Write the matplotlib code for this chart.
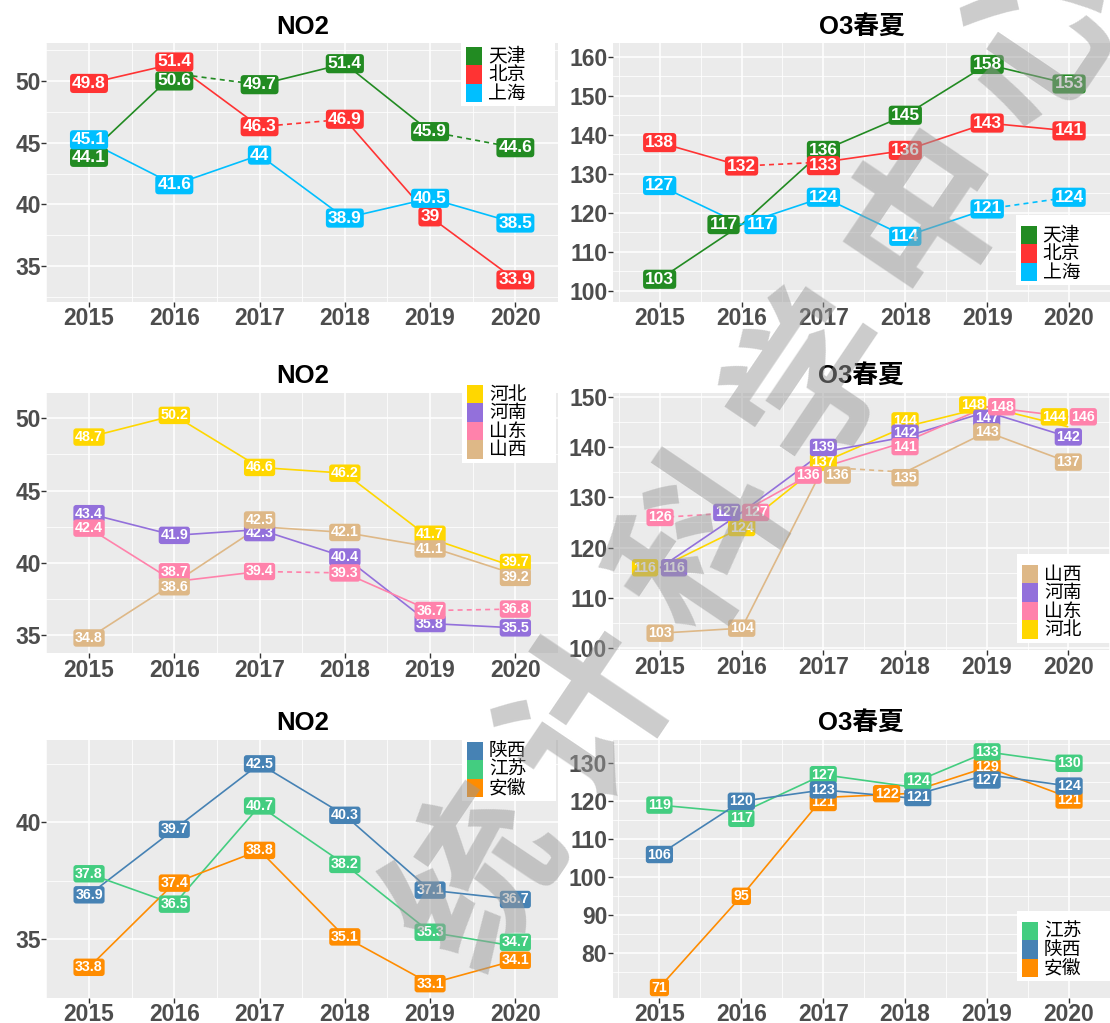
import matplotlib
matplotlib.use('Agg')
import matplotlib.pyplot as plt
from matplotlib.patches import Rectangle

plt.rcParams['font.family'] = ['Liberation Sans', 'Noto Sans CJK SC', 'DejaVu Sans']

W, H = 1110, 1023

years = [2015, 2016, 2017, 2018, 2019, 2020]

# 京津沪
no2_jjh = {'天津': [44.1, 50.6, 49.7, 51.4, 45.9, 44.6],
           '北京': [49.8, 51.4, 46.3, 46.9, 39.0, 33.9],
           '上海': [45.1, 41.6, 44.0, 38.9, 40.5, 38.5]}
o3_jjh = {'天津': [103, 117, 136, 145, 158, 153],
          '北京': [138, 132, 133, 136, 143, 141],
          '上海': [127, 117, 124, 114, 121, 124]}

# 华北四省
no2_hb = {'河北': [48.7, 50.2, 46.6, 46.2, 41.7, 39.7],
          '河南': [43.4, 41.9, 42.3, 40.4, 35.8, 35.5],
          '山东': [42.4, 38.7, 39.4, 39.3, 36.7, 36.8],
          '山西': [34.8, 38.6, 42.5, 42.1, 41.1, 39.2]}
o3_hb = {'河北': [116, 124, 137, 144, 148, 144],
         '河南': [116, 127, 139, 142, 147, 142],
         '山东': [126, 127, 136, 141, 148, 146],
         '山西': [103, 104, 136, 135, 143, 137]}

# 陕苏皖
no2_ssw = {'陕西': [36.9, 39.7, 42.5, 40.3, 37.1, 36.7],
           '江苏': [37.8, 36.5, 40.7, 38.2, 35.3, 34.7],
           '安徽': [33.8, 37.4, 38.8, 35.1, 33.1, 34.1]}
o3_ssw = {'江苏': [119, 117, 127, 124, 133, 130],
          '陕西': [106, 120, 123, 121, 127, 124],
          '安徽': [71, 95, 121, 122, 129, 121]}

colors = {'天津': '#228B22', '北京': '#FF3333', '上海': '#00BFFF',
          '河北': '#FFD700', '河南': '#9370DB', '山东': '#FF82AB', '山西': '#DEB887',
          '陕西': '#4682B4', '江苏': '#43CD80', '安徽': '#FF8C00'}

# segments (index of start year) drawn dashed
dashed = [{'天津': [1, 4], '北京': [2]},
          {'北京': [1], '上海': [4]},
          {'山东': [2, 4]},
          {'山东': [0], '山西': [2]},
          {}, {}]

# label shifts in pixels (dx right, dy down) so stacked labels stay readable
nudges = [
    {('上海', 2015): (0, -1.7), ('天津', 2015): (0, 3.5),
     ('北京', 2016): (0, -1.7), ('天津', 2016): (0, 7.4)},
    {('天津', 2016): (-18, 0), ('上海', 2016): (19, 0), ('北京', 2017): (0, 3.5)},
    {('山东', 2016): (0, -9.8), ('山西', 2016): (0, 3.7),
     ('山西', 2017): (0, -6.7), ('河南', 2017): (0, 3),
     ('河北', 2019): (0, -4), ('山西', 2019): (0, 2),
     ('河北', 2020): (0, -4.7), ('山西', 2020): (0, 3)},
    {('河北', 2015): (-15, 0), ('河南', 2015): (14, 0),
     ('河南', 2016): (-15, 0), ('山东', 2016): (14, 0),
     ('河南', 2017): (0, -4.6), ('山东', 2017): (-15, 8), ('山西', 2017): (14, 8),
     ('河北', 2018): (0, -6), ('河南', 2018): (0, -3.7),
     ('山东', 2018): (0, 4.6), ('山西', 2018): (0, 5.5),
     ('河北', 2019): (-14, -1.8), ('山东', 2019): (15, 0), ('河南', 2019): (0, 6.5),
     ('河北', 2020): (-14, -10), ('山东', 2020): (15, 0)},
    {('江苏', 2020): (0, -4)},
    {('江苏', 2016): (0, 5.6), ('安徽', 2017): (0, 5),
     ('江苏', 2018): (12.6, -5), ('安徽', 2018): (-18.6, 0), ('陕西', 2018): (12.6, 0),
     ('陕西', 2019): (0, 5.3), ('安徽', 2020): (0, 2.5)},
]

panels = [
    dict(data=no2_jjh, title='NO2', box=(46.4, 43.3, 558, 301.7),
         xlim=(2014.531, 2020.365), ylim=(32.13, 53.05),
         yt=[35, 40, 45, 50], ym=[32.5, 37.5, 42.5, 47.5, 52.5], fs=12.5,
         order=['天津', '北京', '上海'], legend=['天津', '北京', '上海'], key=(466, 47)),
    dict(data=o3_jjh, title='O3春夏', box=(613, 43.3, 1110, 301.7),
         xlim=(2014.43, 2020.36), ylim=(97.26, 163.42),
         yt=list(range(100, 161, 10)), ym=list(range(105, 160, 10)), fs=12.5,
         order=['天津', '北京', '上海'], legend=['天津', '北京', '上海'], key=(1020.5, 226)),
    dict(data=no2_hb, title='NO2', box=(46.4, 392.7, 558, 653.3),
         xlim=(2014.531, 2020.365), ylim=(33.74, 51.77),
         yt=[35, 40, 45, 50], ym=[37.5, 42.5, 47.5], fs=10.3,
         order=['河北', '河南', '山东', '山西'], legend=['河北', '河南', '山东', '山西'], key=(467, 385)),
    dict(data=o3_hb, title='O3春夏', box=(612.7, 392.7, 1110, 650),
         xlim=(2014.42, 2020.51), ylim=(99.66, 150.79),
         yt=list(range(100, 151, 10)), ym=list(range(105, 150, 10)), fs=10.3,
         order=['河北', '河南', '山东', '山西'], legend=['山西', '河南', '山东', '河北'], key=(1022, 565)),
    dict(data=no2_ssw, title='NO2', box=(46.4, 740, 558, 997.7),
         xlim=(2014.531, 2020.365), ylim=(32.5, 43.52),
         yt=[35, 40], ym=[37.5, 42.5], fs=10.3,
         order=['陕西', '江苏', '安徽'], legend=['陕西', '江苏', '安徽'], key=(467, 741.7)),
    dict(data=o3_ssw, title='O3春夏', box=(612.7, 740, 1110, 997.7),
         xlim=(2014.43, 2020.36), ylim=(68.32, 136.13),
         yt=list(range(80, 131, 10)), ym=list(range(75, 136, 10)), fs=10.3,
         order=['安徽', '江苏', '陕西'], legend=['江苏', '陕西', '安徽'], key=(1022, 921.7)),
]


def add_axes_px(fig, box):
    l, t, r, b = box
    return fig.add_axes([l / W, 1 - b / H, (r - l) / W, (b - t) / H])


def draw_key(ax, box, names, key_left, key_top):
    l, t, r, b = box
    fx = lambda px: (px - l) / (r - l)
    fy = lambda py: (b - py) / (b - t)
    kw, kh = 16, 18.4
    n = len(names)
    ax.add_patch(Rectangle((fx(key_left - 5), fy(key_top + n * kh + 4)),
                           94 / (r - l), (n * kh + 15) / (b - t),
                           transform=ax.transAxes, fc='white', ec='none',
                           clip_on=False, zorder=20))
    for i, name in enumerate(names):
        y0 = key_top + i * kh
        ax.add_patch(Rectangle((fx(key_left), fy(y0 + kh)), kw / (r - l), kh / (b - t),
                               transform=ax.transAxes, fc=colors[name], ec='none',
                               clip_on=False, zorder=21))
        ax.text(fx(key_left + kw + 6), fy(y0 + kh / 2), name, transform=ax.transAxes,
                ha='left', va='center', fontsize=13.5, family='Noto Sans CJK SC',
                color='black', zorder=22, clip_on=False)


def draw_panel(fig, p, shifts, dash):
    ax = add_axes_px(fig, p['box'])
    ax.set_facecolor('#EBEBEB')
    for s in ax.spines.values():
        s.set_visible(False)
    ax.set_xlim(*p['xlim'])
    ax.set_ylim(*p['ylim'])
    ax.set_xticks(years)
    ax.set_xticks([y + 0.5 for y in [2014] + years], minor=True)
    ax.set_yticks(p['yt'])
    ax.set_yticks(p['ym'], minor=True)
    ax.grid(which='major', color='white', lw=1.1)
    ax.grid(which='minor', color='white', lw=0.55)
    ax.set_axisbelow(True)
    ax.tick_params(which='major', length=3.5, width=1, color='#333333',
                   labelsize=16.5, labelcolor='#4D4D4D', pad=0.5)
    ax.tick_params(which='minor', length=0)
    for lbl in ax.get_xticklabels() + ax.get_yticklabels():
        lbl.set_fontweight('bold')
    ax.set_title(p['title'], fontsize=18.5, fontweight='bold', pad=7)

    for name in p['order']:
        vals = p['data'][name]
        for i in range(len(years) - 1):
            ls = (0, (3, 2.5)) if i in dash.get(name, []) else '-'
            ax.plot(years[i:i + 2], vals[i:i + 2], color=colors[name], lw=1.2,
                    ls=ls, zorder=2, solid_capstyle='butt')

    z = 3
    for name in p['order']:
        vals = p['data'][name]
        for yr, v in zip(years, vals):
            dx, dy = shifts.get((name, yr), (0, 0))
            ax.annotate(f'{v:g}', xy=(yr, v), xytext=(dx, -dy), textcoords='offset pixels',
                        ha='center', va='center', color='white', fontsize=p['fs'],
                        fontweight='bold', zorder=z,
                        bbox=dict(boxstyle='round,pad=0.12,rounding_size=0.2',
                                  fc=colors[name], ec='none'))
        z += 1

    draw_key(ax, p['box'], p['legend'], *p['key'])
    return ax


fig = plt.figure(figsize=(W / 100, H / 100), dpi=100)
for p, shifts, dash in zip(panels, nudges, dashed):
    draw_panel(fig, p, shifts, dash)

# diagonal watermark across the grid
mark = '统计科学中心'
x0, y0, x1, y1 = 480, 880, 1040, 40
for k, ch in enumerate(mark):
    f = k / (len(mark) - 1)
    fig.text((x0 + f * (x1 - x0)) / W, 1 - (y0 + f * (y1 - y0)) / H, ch,
             rotation=56, ha='center', va='center', rotation_mode='anchor',
             fontsize=120, fontweight='bold', family='Noto Sans CJK SC',
             color='#9A9A9A', alpha=0.5, zorder=100)

fig.savefig('out.png', dpi=100)
